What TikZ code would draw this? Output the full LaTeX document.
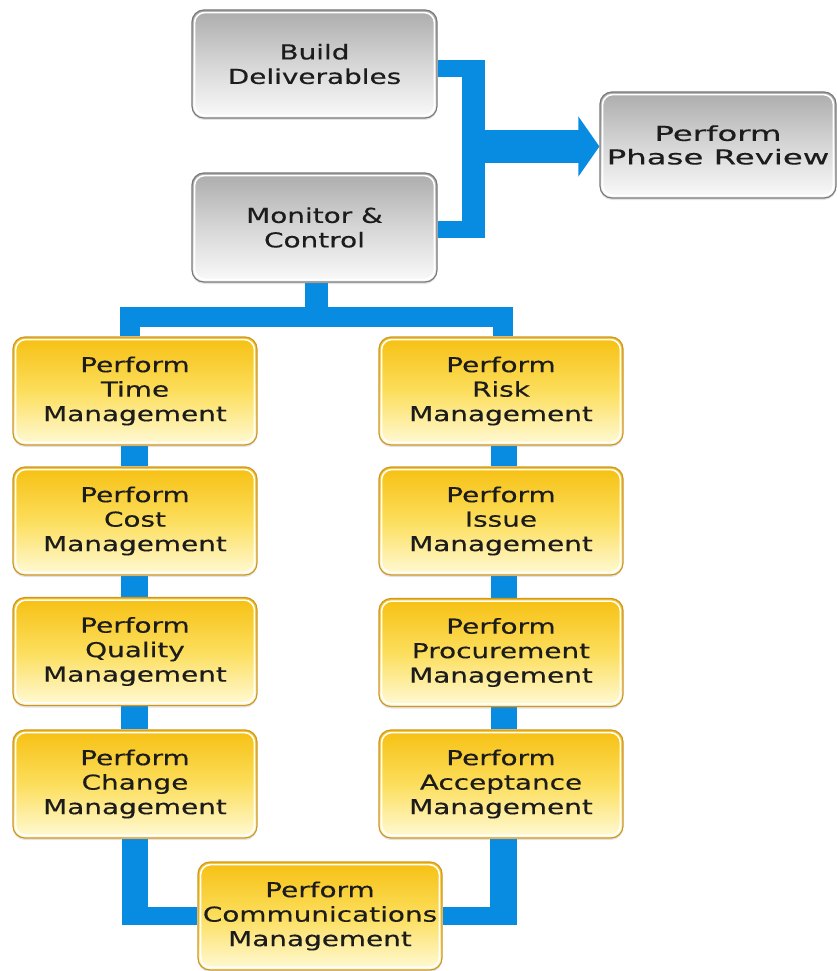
\documentclass[tikz,border=0pt]{standalone}
\usepackage{fontspec}
\usetikzlibrary{arrows.meta,shadows}
\newfontfamily\boxfont[FakeStretch=1.36,FakeBold=0.4]{DejaVu Sans}
\newfontfamily\pprfont[FakeStretch=1.58,FakeBold=0.4]{DejaVu Sans}
\definecolor{ytop}{RGB}{246,192,18}
\definecolor{ymid}{RGB}{252,222,92}
\definecolor{ybot}{RGB}{255,250,215}
\definecolor{yborder}{RGB}{205,150,40}
\definecolor{gtop}{RGB}{172,172,172}
\definecolor{gmid}{RGB}{214,214,214}
\definecolor{gbot}{RGB}{250,250,250}
\definecolor{gborder}{RGB}{120,120,120}
\definecolor{txt}{RGB}{28,28,28}
\definecolor{busblue}{RGB}{8,140,225}
\pgfdeclarelayer{bg}
\pgfsetlayers{bg,main}
\tikzset{
  box/.style={rounded corners=12pt, minimum width=244pt, minimum height=108pt,
    inner sep=0pt, align=center, text=txt, line width=1.2pt,
    font=\boxfont\fontsize{20.5}{24.5}\selectfont,
    drop shadow={opacity=0.22, shadow xshift=0pt, shadow yshift=-2pt},
    path picture={\draw[white, line width=1.6pt, rounded corners=10pt]
      ([shift={(2.6pt,-2.6pt)}]path picture bounding box.north west) rectangle
      ([shift={(-2.6pt,2.6pt)}]path picture bounding box.south east);}},
  ybox/.style={box, draw=yborder, top color=ytop, bottom color=ybot, middle color=ymid},
  gbox/.style={box, draw=gborder, top color=gtop, bottom color=gbot, middle color=gmid},
  conn/.style={draw=busblue, line cap=butt, line join=miter}
}
\begin{document}
\begin{tikzpicture}[x=1pt,y=-1pt]
\useasboundingbox (0,0) rectangle (837,971);
% grey boxes
\node[gbox, minimum width=245pt] (bd) at (314.5,64) {Build\\Deliverables};
\node[gbox, minimum width=245pt, minimum height=109pt] (mc) at (314.5,227.5) {Monitor \&\\Control};
\node[gbox, minimum width=236pt, minimum height=106pt, font=\pprfont\fontsize{20.5}{23.5}\selectfont] (ppr) at (718,145) {Perform\\Phase Review};
% left column
\node[ybox] (tm) at (135,391) {Perform\\Time\\Management};
\node[ybox] (cm) at (135,521) {Perform\\Cost\\Management};
\node[ybox] (qm) at (135,651.5) {Perform\\Quality\\Management};
\node[ybox] (ch) at (135,784) {Perform\\Change\\Management};
% right column
\node[ybox] (rk) at (501,391) {Perform\\Risk\\Management};
\node[ybox] (is) at (501,521) {Perform\\Issue\\Management};
\node[ybox] (pm) at (501,652.5) {Perform\\Procurement\\Management};
\node[ybox] (ac) at (501,784) {Perform\\Acceptance\\Management};
% bottom
\node[ybox] (cc) at (320,916) {Perform\\Communications\\Management};

\begin{pgfonlayer}{bg}
% top bus to phase review
\coordinate (bt) at (473.5,60);
\coordinate (bb) at (473.5,238);
\coordinate (ja) at (485,146.5);
\draw[conn, line width=23pt] (bt) -- (bb);
\draw[conn, line width=17pt] ([yshift=-4.5pt]bd.east) -- ([yshift=-4.5pt]bd.east -| bt);
\draw[conn, line width=17pt] ([yshift=-2pt]mc.east) -- ([yshift=-2pt]mc.east -| bt);
\draw[conn, line width=33pt, -{Triangle[width=59pt,length=21pt]}] (ja) -- (ppr.west |- ja);
% bus from monitor to columns
\coordinate (hb) at (316.5,317);
\draw[conn, line width=23pt] ([xshift=2pt]mc.south) -- (hb);
\draw[conn, line width=20pt] ([xshift=-5.5pt]tm.north) -- ([xshift=-5.5pt]tm.north |- hb)
  -- ([xshift=1.5pt]rk.north |- hb) -- ([xshift=1.5pt]rk.north);
% left chain
\draw[conn, line width=27pt] ([xshift=-1pt]tm.south) -- ([xshift=-1pt]cm.north);
\draw[conn, line width=27pt] ([xshift=-1pt]cm.south) -- ([xshift=-1pt]qm.north);
\draw[conn, line width=27pt] ([xshift=-1pt]qm.south) -- ([xshift=-1pt]ch.north);
% right chain
\draw[conn, line width=26pt] ([xshift=2.5pt]rk.south) -- ([xshift=2.5pt]is.north);
\draw[conn, line width=26pt] ([xshift=2.5pt]is.south) -- ([xshift=2.5pt]pm.north);
\draw[conn, line width=26pt] ([xshift=2.5pt]pm.south) -- ([xshift=2.5pt]ac.north);
% bottom links
\coordinate (bl) at (ch.south |- cc.west);
\coordinate (br) at ([xshift=2.5pt]ac.south |- cc.east);
\draw[conn, line width=26pt] (ch.south) -- ([yshift=-9pt]bl);
\draw[conn, line width=18pt] ([xshift=-13pt]bl) -- (cc.west);
\draw[conn, line width=27pt] ([xshift=2.5pt]ac.south) -- ([yshift=-9pt]br);
\draw[conn, line width=18pt] ([xshift=13.5pt]br) -- (cc.east);
\end{pgfonlayer}
\end{tikzpicture}
\end{document}
